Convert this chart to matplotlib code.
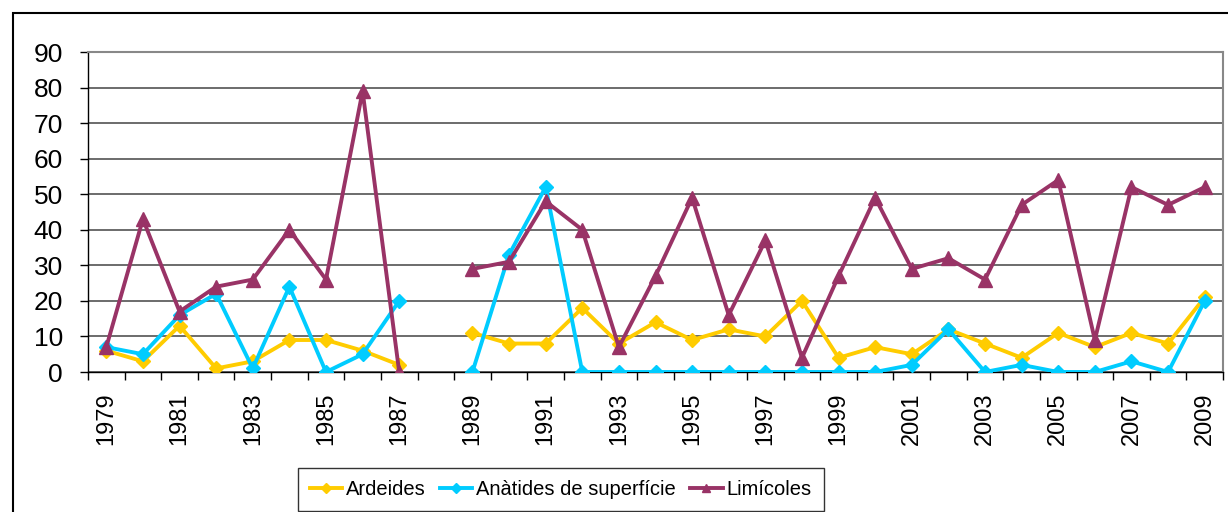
import numpy as np
import matplotlib
matplotlib.use("Agg")
import matplotlib.pyplot as plt
from matplotlib.patches import Rectangle

plt.rcParams['font.family'] = ['Liberation Sans', 'DejaVu Sans']

years = list(range(1979, 2010))
nan = np.nan
ardeides = [6, 3, 13, 1, 3, 9, 9, 6, 2, nan, 11, 8, 8, 18, 8, 14, 9, 12, 10, 20,
            4, 7, 5, 12, 8, 4, 11, 7, 11, 8, 21]
anatides = [7, 5, 16, 22, 1, 24, 0, 5, 20, nan, 0, 33, 52, 0, 0, 0, 0, 0, 0, 0,
            0, 0, 2, 12, 0, 2, 0, 0, 3, 0, 20]
limicoles = [7, 43, 17, 24, 26, 40, 26, 79, 0, nan, 29, 31, 48, 40, 7, 27, 49, 16, 37, 4,
             27, 49, 29, 32, 26, 47, 54, 9, 52, 47, 52]
series_names = ["Ardeides", "Anàtides de superfície", "Limícoles"]
colors = ["#FFCC00", "#00CCFF", "#993366"]
markers = ["D", "D", "^"]
msizes = [7.5, 7.5, 9.5]
y_ticks = list(range(0, 91, 10))

W, H = 1228, 512
fig = plt.figure(figsize=(W / 100, H / 100), dpi=100)
fig.patch.set_facecolor("white")

# chart-area border (extends beyond the image on right and bottom)
fig.patches.append(Rectangle((13 / W, -0.1), 1.2, 1 - 13 / H + 0.1,
                             transform=fig.transFigure, fill=False,
                             edgecolor="black", linewidth=1.5, zorder=0))

ax = fig.add_axes([88 / W, 1 - 372 / H, (1223 - 88) / W, (372 - 52) / H])
x = np.arange(len(years))
for vals, name, c, m, ms in zip([ardeides, anatides, limicoles], series_names,
                                colors, markers, msizes):
    ax.plot(x, vals, color=c, lw=2.8, marker=m, markersize=ms,
            markerfacecolor=c, markeredgecolor=c, label=name, zorder=3)

ax.set_xlim(-0.5, len(years) - 0.5)
ax.set_ylim(0, 90)
ax.set_yticks(y_ticks)
ax.yaxis.grid(True, color="#444444", linewidth=1.1, zorder=0)
ax.set_axisbelow(True)

lab_pos = [i for i, yv in enumerate(years) if (yv - 1979) % 2 == 0]
ax.set_xticks(lab_pos)
ax.set_xticklabels([str(years[i]) for i in lab_pos], rotation=90)
ax.set_xticks(np.arange(-0.5, len(years) + 0.5, 1.0), minor=True)
ax.tick_params(axis="x", which="major", length=0, pad=15, labelsize=17)
ax.tick_params(axis="x", which="minor", length=6, width=1, direction="out", color="black")
ax.tick_params(axis="y", which="major", length=6, width=1, direction="out",
               pad=12, labelsize=19, color="black")

for s in ["top", "right"]:
    ax.spines[s].set_color("#888888")
    ax.spines[s].set_linewidth(1.5)
ax.spines["left"].set_color("black")
ax.spines["bottom"].set_color("black")
ax.spines["left"].set_linewidth(1.0)
ax.spines["bottom"].set_linewidth(1.0)

leg = fig.legend(loc="upper left", bbox_to_anchor=(298 / W, 1 - 468 / H),
                 ncol=3, frameon=True, fancybox=False, borderaxespad=0,
                 prop={'size': 14.5},
                 edgecolor="black", handlelength=1.6, handletextpad=0.2,
                 columnspacing=0.7, borderpad=0.6, markerscale=0.65)
leg.get_frame().set_linewidth(1.0)

fig.savefig("out.png", dpi=100)
